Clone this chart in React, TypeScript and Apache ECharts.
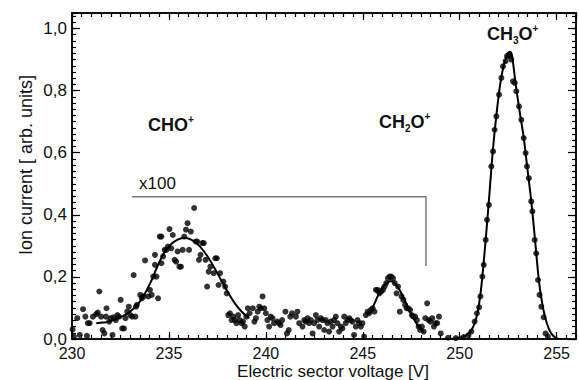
import React, { useEffect, useRef } from "react";
import * as echarts from "echarts";

// ---- axis ranges / ticks ----
const xMin = 230;
const xMax = 256;
const yMin = 0;
const yMax = 1.05;
const xMajorStep = 5;
const xMinorStep = 0.5;
const yMajorStep = 0.2;
const yMinorStep = 0.02;

const xAxisTitle = "Electric sector voltage [V]";
const yAxisTitle = "Ion current [ arb. units]";
const scaleNote = "x100";

// ---- measured points (voltage, ion current) ----
const pointsCHO: number[][] = [
  [230.03, 0.031], [230.10, 0.008], [230.27, 0.067], [230.40, 0.013], [230.57, 0.096], [230.69, 0.072],
  [230.77, 0.010], [230.82, 0.051], [230.91, 0.051], [231.08, 0.072], [231.25, 0.080], [231.33, 0.085],
  [231.41, 0.153], [231.50, 0.072], [231.58, 0.029], [231.67, 0.018], [231.75, 0.072], [231.78, 0.099],
  [231.92, 0.056], [232.00, 0.067], [232.09, 0.013], [232.14, 0.070], [232.26, 0.061], [232.34, 0.077],
  [232.42, 0.072], [232.51, 0.126], [232.59, 0.034], [232.68, 0.034], [232.76, 0.067], [232.85, 0.088],
  [232.93, 0.104], [233.01, 0.077], [233.10, 0.072], [233.18, 0.206], [233.27, 0.072], [233.30, 0.104],
  [233.35, 0.110], [233.52, 0.142], [233.60, 0.131], [233.69, 0.137], [233.77, 0.253], [233.94, 0.137],
  [234.02, 0.158], [234.11, 0.142], [234.19, 0.201], [234.28, 0.271], [234.28, 0.239], [234.36, 0.201],
  [234.44, 0.131], [234.53, 0.330], [234.61, 0.330], [234.61, 0.244], [234.70, 0.266], [234.78, 0.287],
  [234.87, 0.287], [234.95, 0.298], [235.03, 0.354], [235.12, 0.292], [235.20, 0.335], [235.29, 0.255],
  [235.37, 0.249], [235.45, 0.282], [235.54, 0.233], [235.62, 0.233], [235.71, 0.287], [235.79, 0.330],
  [235.88, 0.352], [235.96, 0.373], [236.04, 0.287], [236.13, 0.346], [236.30, 0.422], [236.38, 0.314],
  [236.46, 0.314], [236.55, 0.255], [236.63, 0.271], [236.72, 0.309], [236.80, 0.309], [236.89, 0.255],
  [236.97, 0.169], [237.05, 0.217], [237.14, 0.233], [237.31, 0.212], [237.39, 0.260], [237.47, 0.260],
  [237.56, 0.174], [237.64, 0.212], [237.81, 0.185], [237.90, 0.169], [237.98, 0.147], [238.06, 0.077],
  [238.15, 0.083], [238.23, 0.061], [238.32, 0.072], [238.40, 0.061], [238.48, 0.051], [238.57, 0.077],
  [238.65, 0.061], [238.74, 0.051], [238.82, 0.056], [238.91, 0.040], [238.99, 0.072], [239.07, 0.099],
  [239.16, 0.083], [239.33, 0.099], [239.41, 0.056], [239.49, 0.067], [239.58, 0.088], [239.66, 0.104],
  [239.75, 0.099], [239.83, 0.137], [239.92, 0.099], [240.00, 0.083], [240.08, 0.061], [240.17, 0.040],
  [240.25, 0.072], [240.34, 0.067], [240.42, 0.051], [240.59, 0.056], [240.67, 0.051], [240.76, 0.045],
  [240.84, 0.061], [241.01, 0.088], [241.09, 0.018], [241.18, 0.029], [241.26, 0.072], [241.35, 0.083],
];

const pointsCH2O: number[][] = [
  [241.55, 0.072], [241.63, 0.088], [241.72, 0.051], [241.89, 0.040], [241.98, 0.061], [242.06, 0.056],
  [242.15, 0.067], [242.23, 0.051], [242.32, 0.061], [242.41, 0.018], [242.49, 0.051], [242.58, 0.077],
  [242.66, 0.061], [242.75, 0.040], [242.84, 0.067], [242.92, 0.061], [243.01, 0.029], [243.09, 0.061],
  [243.18, 0.051], [243.26, 0.024], [243.35, 0.056], [243.44, 0.040], [243.52, 0.061], [243.61, 0.072],
  [243.69, 0.051], [243.78, 0.024], [243.87, 0.040], [243.95, 0.034], [244.04, 0.072], [244.12, 0.051],
  [244.21, 0.061], [244.30, 0.067], [244.38, 0.061], [244.47, 0.056], [244.55, 0.013], [244.64, 0.040],
  [244.73, 0.061], [244.81, 0.051], [244.90, 0.040], [244.98, 0.051], [245.07, 0.008], [245.16, 0.077],
  [245.25, 0.088], [245.33, 0.083], [245.42, 0.094], [245.51, 0.099], [245.60, 0.088], [245.68, 0.158],
  [245.77, 0.158], [245.86, 0.147], [245.95, 0.153], [246.04, 0.158], [246.12, 0.169], [246.21, 0.180],
  [246.30, 0.196], [246.39, 0.201], [246.47, 0.201], [246.56, 0.196], [246.65, 0.180], [246.74, 0.147],
  [246.82, 0.169], [246.91, 0.088], [247.00, 0.137], [247.09, 0.126], [247.18, 0.110], [247.26, 0.099],
  [247.35, 0.099], [247.44, 0.094], [247.53, 0.077], [247.61, 0.072], [247.70, 0.072], [247.79, 0.061],
  [247.88, 0.040], [247.96, 0.029], [248.05, 0.040], [248.14, 0.024], [248.23, 0.067], [248.32, 0.115],
  [248.40, 0.061], [248.49, 0.056], [248.58, 0.067], [248.67, 0.040], [248.75, 0.051], [248.84, 0.051],
  [248.93, 0.072], [249.02, 0.018],
];

const pointsCH3O: number[][] = [
  [249.40, 0.004], [249.80, 0.003], [250.20, 0.006], [250.45, 0.012], [250.60, 0.024], [250.77, 0.056],
  [250.89, 0.083], [251.00, 0.102], [251.07, 0.137], [251.17, 0.201], [251.24, 0.239], [251.34, 0.319],
  [251.41, 0.384], [251.51, 0.432], [251.63, 0.556], [251.72, 0.604], [251.80, 0.674], [251.89, 0.717],
  [252.03, 0.787], [252.15, 0.841], [252.23, 0.878], [252.37, 0.895], [252.44, 0.911], [252.54, 0.916],
  [252.61, 0.911], [252.66, 0.900], [252.75, 0.830], [252.84, 0.825], [252.92, 0.798], [253.06, 0.749],
  [253.18, 0.706], [253.30, 0.647], [253.40, 0.599], [253.47, 0.556], [253.57, 0.518], [253.69, 0.443],
  [253.75, 0.411], [253.87, 0.319], [253.95, 0.276], [254.04, 0.190], [254.12, 0.142], [254.21, 0.104],
  [254.33, 0.070], [254.43, 0.018], [254.55, 0.008],
];

// ---- fitted curves ----
const fitCHO: number[][] = [
  [231.25, 0.051], [231.60, 0.053], [231.92, 0.056], [232.42, 0.067], [232.93, 0.085], [233.43, 0.115],
  [233.77, 0.147], [234.11, 0.190], [234.44, 0.239], [234.78, 0.280], [235.12, 0.306], [235.45, 0.320],
  [235.79, 0.326], [236.04, 0.323], [236.30, 0.314], [236.63, 0.296], [236.97, 0.268], [237.31, 0.233],
  [237.64, 0.196], [237.98, 0.158], [238.32, 0.122], [238.65, 0.095], [238.99, 0.074], [239.15, 0.068],
];

const fitCH2O: number[][] = [
  [245.30, 0.080], [245.50, 0.100], [245.70, 0.128], [245.90, 0.155], [246.10, 0.173], [246.30, 0.183],
  [246.45, 0.186], [246.60, 0.182], [246.80, 0.168], [247.00, 0.146], [247.20, 0.120], [247.40, 0.093],
  [247.60, 0.068], [247.80, 0.047], [248.00, 0.031], [248.15, 0.022],
];

const fitCH3O: number[][] = [
  [249.20, 0.000], [249.80, 0.002], [250.20, 0.008], [250.50, 0.020], [250.70, 0.040], [250.90, 0.078],
  [251.10, 0.160], [251.30, 0.290], [251.50, 0.440], [251.70, 0.600], [251.90, 0.725], [252.10, 0.825],
  [252.30, 0.888], [252.50, 0.920], [252.60, 0.925], [252.70, 0.912], [252.90, 0.815], [253.10, 0.730],
  [253.30, 0.650], [253.50, 0.545], [253.70, 0.440], [253.90, 0.310], [254.10, 0.180], [254.30, 0.100],
  [254.50, 0.050], [254.70, 0.020], [254.90, 0.006], [255.10, 0.000],
];

// ---- x100 bracket ----
const bracket: number[][] = [
  [233.1, 0.458], [248.26, 0.458], [248.26, 0.235],
];

const FONT = "'Liberation Sans', Arial, Helvetica, sans-serif";

function xAxisDef(gridIndex: number, position: string, interval: number, len: number, labels: boolean) {
  return {
    type: "value",
    gridIndex,
    position,
    min: xMin,
    max: xMax,
    interval,
    axisLine: { show: true, onZero: false, lineStyle: { color: "#000", width: 1.5 } },
    axisTick: { show: true, inside: true, length: len, lineStyle: { color: "#000", width: 1.2 } },
    axisLabel: {
      show: labels,
      showMaxLabel: false,
      margin: 7,
      fontSize: 16,
      lineHeight: 15,
      color: "#111",
      fontFamily: FONT,
    },
    splitLine: { show: false },
  };
}

function yAxisDef(gridIndex: number, position: string, interval: number, len: number, labels: boolean) {
  return {
    type: "value",
    gridIndex,
    position,
    min: yMin,
    max: yMax,
    interval,
    axisLine: { show: true, onZero: false, lineStyle: { color: "#000", width: 1.5 } },
    axisTick: { show: true, inside: true, length: len, lineStyle: { color: "#000", width: 1.2 } },
    axisLabel: {
      show: labels,
      showMaxLabel: false,
      margin: 5,
      fontSize: 17,
      lineHeight: 14,
      color: "#111",
      fontFamily: FONT,
      formatter: (v: number) => v.toFixed(1).replace(".", ","),
    },
    splitLine: { show: false },
  };
}

const boldRich = {
  b: { fontSize: 18, fontWeight: "bold", fontFamily: FONT, fill: "#111", color: "#111", lineHeight: 22 },
  sup: { fontSize: 10, fontWeight: "bold", fontFamily: FONT, fill: "#111", color: "#111", lineHeight: 10, verticalAlign: "top" },
  sub: { fontSize: 10, fontWeight: "bold", fontFamily: FONT, fill: "#111", color: "#111", lineHeight: 10, verticalAlign: "bottom" },
};

export default function App() {
  const ref = useRef<HTMLDivElement>(null);

  useEffect(() => {
    if (!ref.current) return;
    const chart = echarts.init(ref.current, null, { renderer: "svg" });
    const grid = { left: 72, right: 3, top: 13, bottom: 41, containLabel: false };
    const option: any = {
      animation: false,
      backgroundColor: "#fff",
      grid: [grid, { ...grid }],
      xAxis: [
        xAxisDef(0, "bottom", xMajorStep, 7, true),
        xAxisDef(0, "top", xMajorStep, 7, false),
        xAxisDef(1, "bottom", xMinorStep, 4, false),
        xAxisDef(1, "top", xMinorStep, 4, false),
      ],
      yAxis: [
        yAxisDef(0, "left", yMajorStep, 8, true),
        yAxisDef(0, "right", yMajorStep, 8, false),
        yAxisDef(1, "left", yMinorStep, 4, false),
        yAxisDef(1, "right", yMinorStep, 4, false),
      ],
      series: [
        {
          type: "line",
          xAxisIndex: 0,
          yAxisIndex: 0,
          data: bracket,
          showSymbol: false,
          symbol: "none",
          lineStyle: { color: "#7a7a7a", width: 1.5 },
          z: 1,
        },
        ...[pointsCHO, pointsCH2O, pointsCH3O].map((d) => ({
          type: "scatter",
          xAxisIndex: 0,
          yAxisIndex: 0,
          data: d,
          symbol: "circle",
          symbolSize: 6,
          itemStyle: { color: "#000" },
          z: 3,
        })),
        ...[fitCHO, fitCH2O, fitCH3O].map((d) => ({
          type: "line",
          xAxisIndex: 0,
          yAxisIndex: 0,
          data: d,
          smooth: 0.3,
          showSymbol: false,
          symbol: "none",
          lineStyle: { color: "#000", width: 2 },
          z: 4,
        })),
      ],
      graphic: [
        {
          type: "text",
          x: 26,
          y: 165,
          rotation: Math.PI / 2,
          style: { text: yAxisTitle, fontSize: 18, fontFamily: FONT, fill: "#111", align: "center", verticalAlign: "middle" },
        },
        {
          type: "text",
          x: 333,
          y: 371,
          style: { text: xAxisTitle, fontSize: 17, fontFamily: FONT, fill: "#111", align: "center", verticalAlign: "middle" },
        },
        {
          type: "text",
          x: 139,
          y: 183,
          style: { text: scaleNote, fontSize: 17, fontFamily: FONT, fill: "#111", align: "left", verticalAlign: "middle" },
        },
        {
          type: "text",
          x: 148,
          y: 125,
          style: { text: "{b|CHO}{sup|+}", rich: boldRich, align: "left", verticalAlign: "middle" },
        },
        {
          type: "text",
          x: 379,
          y: 122,
          style: { text: "{b|CH}{sub|2}{b|O}{sup|+}", rich: boldRich, align: "left", verticalAlign: "middle" },
        },
        {
          type: "text",
          x: 487,
          y: 34,
          style: { text: "{b|CH}{sub|3}{b|O}{sup|+}", rich: boldRich, align: "left", verticalAlign: "middle" },
        },
      ],
    };
    chart.setOption(option);
    return () => chart.dispose();
  }, []);

  return (
    <div
      ref={ref}
      style={{ position: "absolute", left: 0, top: 0, width: 579, height: 380, background: "#fff" }}
    />
  );
}
